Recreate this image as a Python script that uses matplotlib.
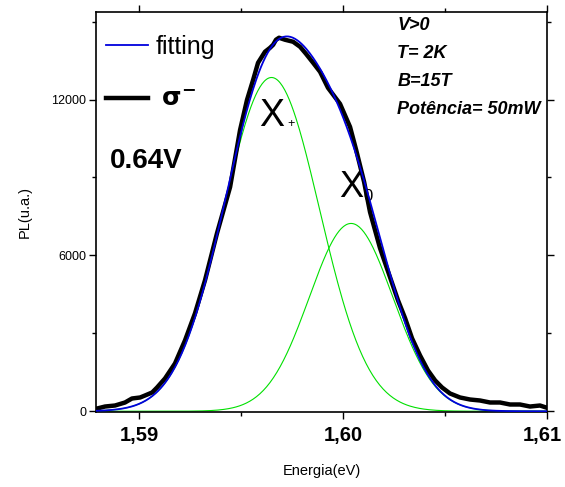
import numpy as np
import matplotlib
matplotlib.use("Agg")
import matplotlib.pyplot as plt
import matplotlib.transforms as mtransforms
from matplotlib.ticker import MultipleLocator, FuncFormatter

plt.rcParams['font.family'] = ['Liberation Sans', 'DejaVu Sans']

# espectro medido (sigma-)
energy = [1.58795, 1.58834, 1.58883, 1.58932, 1.58966, 1.59006, 1.59030, 1.59065,
          1.59089, 1.59128, 1.59177, 1.59226, 1.59275, 1.59324, 1.59383, 1.59447,
          1.59496, 1.59530, 1.59560, 1.59584, 1.59618, 1.59643, 1.59658, 1.59672,
          1.59687, 1.59716, 1.59756, 1.59790, 1.59819, 1.59854, 1.59888, 1.59927,
          1.59986, 1.60035, 1.60065, 1.60104, 1.60133, 1.60182, 1.60231, 1.60270,
          1.60305, 1.60339, 1.60378, 1.60417, 1.60452, 1.60486, 1.60525, 1.60574,
          1.60623, 1.60672, 1.60721, 1.60770, 1.60819, 1.60868, 1.60917, 1.60966,
          1.60996]
pl = [104, 181, 220, 336, 490, 529, 606, 722,
      914, 1262, 1840, 2728, 3770, 5043, 6857, 8632,
      10831, 11988, 12760, 13416, 13840, 13995, 14110, 14304,
      14381, 14304, 14226, 14033, 13763, 13416, 13069, 12451,
      11834, 10947, 10059, 8824, 7667, 6278, 5159, 4271,
      3577, 2805, 2149, 1570, 1185, 914, 683, 529,
      451, 413, 336, 336, 259, 259, 181, 220,
      143]

# parametros do ajuste gaussiano (X+, X0)
peak_names = ['X+', 'X0']
peak_center = [1.5965, 1.6004]
peak_height = [12850, 7230]
peak_sigma = [0.00235, 0.00205]

x_ticks = [1.59, 1.60, 1.61]
y_ticks = [0, 6000, 12000]

fig = plt.figure(figsize=(5.65, 4.87), dpi=100)
ax = fig.add_axes([0.170, 0.154, 0.798, 0.821])

xf = np.linspace(1.5879, 1.61, 400)
comps = []
for c, h, s in zip(peak_center, peak_height, peak_sigma):
    g = h * np.exp(-(xf - c) ** 2 / (2 * s ** 2))
    comps.append(g)
    ax.plot(xf, g, color='#00e000', lw=0.8, zorder=2)

ax.plot(energy, pl, color='black', lw=3.2, zorder=3, label='$\\;\\mathbf{\\sigma}^{\\mathbf{-}}$')
ax.plot(xf, comps[0] + comps[1], color='#0000dd', lw=1.3, zorder=4, label='fitting')

ax.set_xlim(1.5879, 1.61)
ax.set_ylim(-30, 15365)

ax.set_xticks(x_ticks)
ax.xaxis.set_minor_locator(MultipleLocator(0.005))
ax.xaxis.set_major_formatter(FuncFormatter(lambda v, p: ('%.2f' % v).replace('.', ',')))
ax.set_yticks(y_ticks)
ax.yaxis.set_minor_locator(MultipleLocator(3000))
ax.tick_params(which='both', direction='out', top=True, right=True, width=1.0)
ax.tick_params(which='major', length=5)
ax.tick_params(which='minor', length=3)
ax.tick_params(axis='x', labelsize=14.5, pad=5)
ax.tick_params(axis='y', labelsize=9, pad=2)
xlabels = ax.get_xticklabels()
for lab in xlabels:
    lab.set_fontweight('bold')
# o ultimo rotulo encosta na borda
xlabels[-1].set_transform(xlabels[-1].get_transform() +
                          mtransforms.ScaledTranslation(-3 / 72, 0, fig.dpi_scale_trans))
for sp in ax.spines.values():
    sp.set_linewidth(1.2)

ax.set_xlabel('Energia(eV)', fontsize=10.5, labelpad=14)
ax.set_ylabel('PL(u.a.)', fontsize=10.5, labelpad=14)

h, l = ax.get_legend_handles_labels()
ax.legend(h[::-1], l[::-1], loc='upper left', bbox_to_anchor=(-0.027, 1.0), frameon=False,
          fontsize=18, handlelength=1.65, handletextpad=0.3, labelspacing=1.15)

ax.text(0.03, 0.61, '0.64V', transform=ax.transAxes, fontsize=20, fontweight='bold')
ax.text(1.5959, 11000, 'X', fontsize=27, zorder=1)
ax.text(1.5973, 10950, '+', fontsize=9, zorder=1)
ax.text(1.5998, 8250, 'X', fontsize=26, zorder=1)
ax.text(1.60098, 8100, '0', fontsize=12, zorder=1)

info = ['V>0', 'T= 2K', 'B=15T', 'Potência= 50mW']
for i, t in enumerate(info):
    ax.text(0.668, 0.955 - i * 0.0695, t, transform=ax.transAxes, fontsize=13,
            fontweight='bold', fontstyle='italic', va='baseline')

plt.savefig('out.png', dpi=100)
